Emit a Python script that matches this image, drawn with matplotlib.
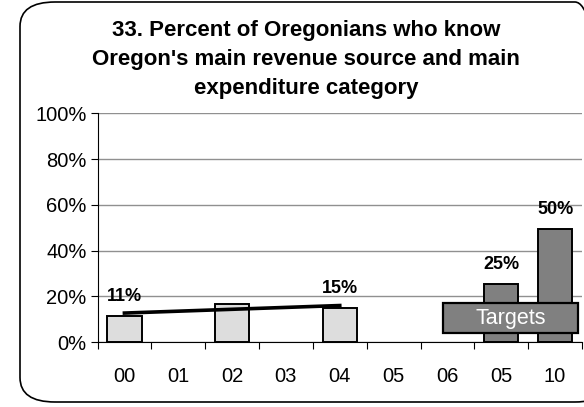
import numpy as np
import matplotlib
matplotlib.use("Agg")
import matplotlib.pyplot as plt
from matplotlib.patches import FancyBboxPatch, Rectangle

plt.rcParams['font.family'] = ['Liberation Sans', 'DejaVu Sans']

# data
years = ['00', '01', '02', '03', '04', '05', '06', '05', '10']
actual_pos = [0, 2, 4]
actual_vals = [11.5, 16.6, 14.8]
actual_labels = ['11%', '', '15%']
target_pos = [7, 8]
target_vals = [25.2, 49.5]
target_labels = ['25%', '50%']
yticks = [0, 20, 40, 60, 80, 100]

fig = plt.figure(figsize=(5.84, 4.07), dpi=100)

# rounded frame around the whole chart
frame = FancyBboxPatch((20 / 584, 5 / 407), 590 / 584, 400 / 407,
                       boxstyle="round,pad=0,rounding_size=0.06",
                       transform=fig.transFigure, facecolor='none',
                       edgecolor='black', linewidth=1.2, zorder=-1)
fig.patches.append(frame)

fig.text(306 / 584, 1 - 20 / 407,
         "33. Percent of Oregonians who know\nOregon's main revenue source and main\nexpenditure category",
         ha='center', va='top', fontsize=16, fontweight='bold', linespacing=1.5)

ax = fig.add_axes([97.5 / 584, 65 / 407, 484.5 / 584, 228.7 / 407])
ax.set_facecolor('none')

x = np.arange(len(years))
bars_a = ax.bar(actual_pos, actual_vals, width=0.64, color='#dddddd',
                edgecolor='black', linewidth=1.4, zorder=3)
bars_t = ax.bar(target_pos, target_vals, width=0.64, color='#808080',
                edgecolor='black', linewidth=1.4, zorder=3)

# linear trend over the actual values
k, b = np.polyfit(actual_pos, actual_vals, 1)
tx = np.array([actual_pos[0], actual_pos[-1]])
ax.plot(tx, k * tx + b, color='black', linewidth=2.6, zorder=5)

for bar, lab in zip(list(bars_a) + list(bars_t), actual_labels + target_labels):
    if lab:
        ax.annotate(lab, (bar.get_x() + bar.get_width() / 2, bar.get_height()),
                    xytext=(0, 14), textcoords='offset points',
                    ha='center', va='center', fontsize=13, fontweight='bold', zorder=6)

# "Targets" box
ax.add_patch(Rectangle((5.92, 3.9), 2.51, 13.1, facecolor='#808080', edgecolor='black',
                       linewidth=1.6, zorder=7, clip_on=False))
ax.text(7.175, 10.3, 'Targets', ha='center', va='center', fontsize=15.5, color='white',
        zorder=8)

ax.set_xlim(-0.5, len(years) - 0.5)
ax.set_ylim(0, 100)
ax.set_yticks(yticks)
ax.set_yticklabels([f'{v}%' for v in yticks], fontsize=14.5)
ax.yaxis.grid(True, color='#909090', linewidth=1)
ax.set_axisbelow(True)

ax.set_xticks(np.arange(-0.5, len(years), 1))
ax.set_xticklabels([])
ax.set_xticks(x, minor=True)
ax.set_xticklabels(years, minor=True, fontsize=14.5)
ax.tick_params(axis='x', which='major', length=5, direction='out', color='black')
ax.tick_params(axis='x', which='minor', length=0, pad=18)
ax.tick_params(axis='y', length=5, pad=3)

for s in ['top', 'right']:
    ax.spines[s].set_visible(False)
ax.spines['left'].set_color('black')
ax.spines['bottom'].set_color('black')

fig.savefig('out.png', dpi=100)
